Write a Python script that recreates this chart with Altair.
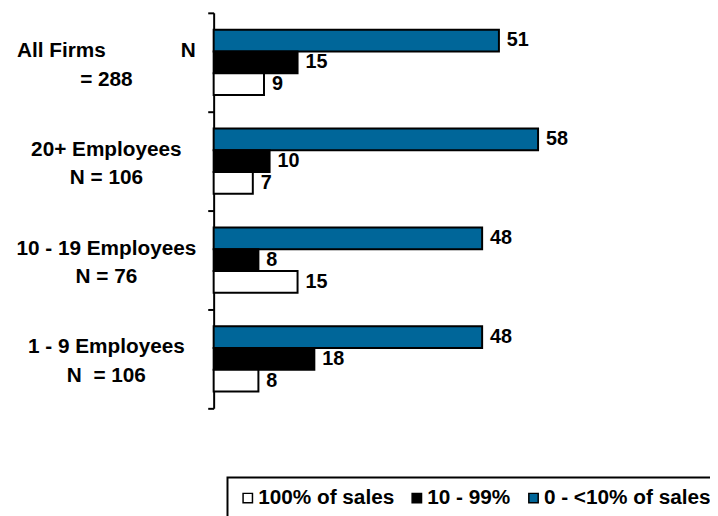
import altair as alt
import pandas as pd

NB = "\u00a0"
FONT = "Liberation Sans, Arial, Helvetica, sans-serif"

# Category labels (two lines each)
line1 = ["All Firms" + NB * 13 + "N", "20+ Employees" + NB * 5, "10 - 19 Employees", "1 - 9 Employees" + NB * 4]
line2 = ["= 288", "N = 106", "N = 76", "N" + NB * 2 + "= 106"]

# Series (top to bottom inside each group)
series = ["0 - <10% of sales", "10 - 99%", "100% of sales"]
legend_order = ["100% of sales", "10 - 99%", "0 - <10% of sales"]
legend_colors = ["#ffffff", "#000000", "#006699"]

vals_low = [51, 58, 48, 48]    # 0 - <10% of sales
vals_mid = [15, 10, 8, 18]     # 10 - 99%
vals_full = [9, 7, 15, 8]      # 100% of sales

labels = [a + "|" + b for a, b in zip(line1, line2)]
rows = []
for i, lab in enumerate(labels):
    for s, v in zip(series, [vals_low[i], vals_mid[i], vals_full[i]]):
        rows.append({"label": lab, "series": s, "value": v})
df = pd.DataFrame(rows)

base = alt.Chart(df).encode(
    y=alt.Y(
        "label:N",
        sort=labels,
        scale=alt.Scale(domain=labels, paddingInner=0, paddingOuter=0),
        axis=alt.Axis(
            title=None,
            labelExpr="split(datum.label, '|')",
            labelAlign="center",
            labelBaseline="middle",
            labelPadding=103,
            labelLineHeight=29,
            labelOffset=-12,
            labelFont=FONT,
            labelFontSize=21,
            labelFontWeight="bold",
            labelColor="black",
            labelLimit=0,
            tickSize=6,
            tickWidth=2,
            tickColor="black",
            tickBand="extent",
            domainColor="black",
            domainWidth=2,
            grid=False,
        ),
    ),
    yOffset=alt.YOffset(
        "series:N",
        sort=series,
        scale=alt.Scale(domain=series, paddingInner=0, paddingOuter=0.773),
    ),
)

bars = base.mark_bar(stroke="black", strokeWidth=2).encode(
    x=alt.X("value:Q", scale=alt.Scale(domain=[0, 70], nice=False), axis=None),
    fill=alt.Fill(
        "series:N",
        scale=alt.Scale(domain=legend_order, range=legend_colors),
        legend=alt.Legend(
            title=None,
            orient="none",
            legendX=14,
            legendY=470,
            direction="horizontal",
            symbolType="square",
            symbolSize=90,
            symbolStrokeColor="black",
            symbolStrokeWidth=1.5,
            labelFont=FONT,
            labelFontSize=21,
            labelFontWeight="bold",
            labelColor="black",
            labelOffset=0,
            columnPadding=12,
            padding=10,
            strokeColor="black",
            labelLimit=0,
        ),
    ),
)

text = base.mark_text(
    align="left", baseline="middle", dx=8, font=FONT, fontSize=20,
    fontWeight="bold", color="black",
).encode(
    x=alt.X("value:Q"),
    text=alt.Text("value:Q"),
)

chart = (
    alt.layer(bars, text)
    .properties(
        width=396,
        height=400,
        autosize="none",
        padding={"left": 208, "top": 2, "right": 106, "bottom": 106},
    )
    .configure_view(stroke=None)
    .configure_legend(strokeWidth=2)
)

chart.save("out.html", embed_options={"renderer": "svg", "actions": False})
